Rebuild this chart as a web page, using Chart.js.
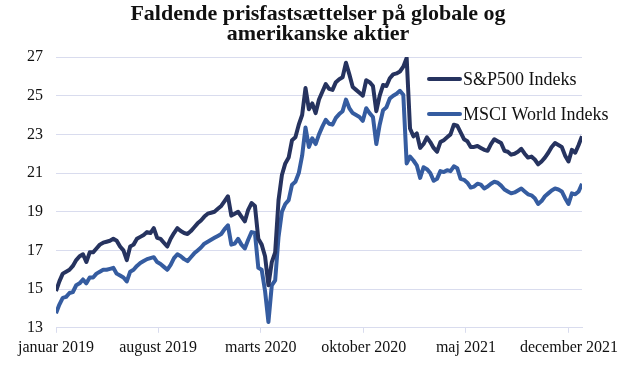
<!DOCTYPE html>
<html>
<head>
<meta charset="utf-8">
<script src="https://cdn.jsdelivr.net/npm/chart.js@4.4.1/dist/chart.umd.min.js"></script>
<style>
  body { margin: 0; background: #fff; }
  #wrap { width: 640px; height: 367px; }
</style>
</head>
<body>
<div id="wrap"><canvas id="peChart"></canvas></div>
<script>
// weekly forward P/E, first week of Jan 2019 to end of Dec 2021
var spxPE = [
  14.9, 15.4, 15.8, 15.9, 16.0, 16.2, 16.5, 16.7, 16.8, 16.4, 16.9, 16.9, 17.1, 17.3, 17.4, 17.45, 17.5, 17.6, 17.5, 17.2, 17.0, 16.5, 17.2, 17.3, 17.6, 17.7, 17.8,
  17.95, 17.9, 18.15, 17.65, 17.6, 17.4, 17.2, 17.6, 17.9, 18.15, 18.0, 17.9, 17.85, 18.0, 18.2, 18.4, 18.55, 18.75, 18.9, 18.95, 19.0, 19.15, 19.3, 19.55, 19.8,
  18.8, 18.9, 19.0, 18.75, 18.5, 19.1, 19.45, 19.3, 17.6, 17.3, 16.7, 15.2, 16.4, 16.9,
  19.6, 20.9, 21.5, 21.8, 22.7, 22.85, 23.5, 24.0, 25.4, 24.3, 24.6, 24.1, 24.8, 25.2, 25.6, 25.35, 25.3, 25.7, 25.85, 25.95, 26.7, 26.1, 25.45, 25.3, 25.15, 25.0, 25.8, 25.7, 25.5, 24.2, 25.0, 25.55, 25.5, 25.9, 26.1, 26.15, 26.25, 26.5, 26.95,
  23.3, 22.9, 23.05, 22.3, 22.5, 22.85, 22.6, 22.3, 22.1, 22.6, 22.7, 22.85, 23.0, 23.5, 23.45, 23.1, 22.75, 22.65, 22.35, 22.35, 22.4, 22.3, 22.2, 22.15, 22.5, 22.75, 22.65, 22.55, 22.15, 22.1, 21.95, 22.0, 22.1, 22.25, 22.0, 21.8, 21.85, 21.7, 21.45, 21.6, 21.8, 22.05, 22.35, 22.55, 22.45, 22.35, 21.9, 21.6, 22.2, 22.05, 22.45, 22.9
];
var msciPE = [
  13.75, 14.2, 14.55, 14.6, 14.8, 14.85, 15.2, 15.3, 15.5, 15.3, 15.6, 15.6, 15.8, 15.9, 16.0, 16.0, 16.05, 16.1, 15.8, 15.7, 15.6, 15.4, 15.9, 16.0, 16.2, 16.35, 16.45,
  16.55, 16.6, 16.65, 16.4, 16.3, 16.15, 16.0, 16.25, 16.6, 16.8, 16.7, 16.55, 16.45, 16.65, 16.85, 17.0, 17.15, 17.35, 17.45, 17.55, 17.65, 17.75, 17.85, 18.1, 18.3,
  17.3, 17.35, 17.6, 17.3, 17.1, 17.55, 17.95, 17.9, 16.1, 16.0, 14.9, 13.3, 15.2, 15.45,
  17.7, 19.0, 19.4, 19.6, 20.4, 20.55, 21.0, 21.9, 23.35, 22.35, 22.8, 22.5, 23.0, 23.4, 23.75, 23.55, 23.5, 23.85, 24.05, 24.2, 24.8, 24.35, 24.1, 24.0, 23.9, 23.7, 24.35, 24.1, 23.9, 22.5, 23.5, 24.25, 24.4, 24.85, 25.0, 25.1, 25.25, 25.05, 21.5,
  21.85, 21.65, 21.4, 20.75, 21.3, 21.2, 21.0, 20.6, 20.7, 21.1, 21.05, 21.15, 21.1, 21.35, 21.25, 20.7, 20.65, 20.5, 20.25, 20.3, 20.45, 20.4, 20.2, 20.3, 20.45, 20.55, 20.5, 20.35, 20.15, 20.05, 19.95, 20.0, 20.1, 20.2, 20.05, 19.9, 19.85, 19.7, 19.4, 19.55, 19.8, 19.95, 20.1, 20.2, 20.15, 20.05, 19.7, 19.4, 19.95, 19.9, 20.05, 20.45
];

// x axis is days since 1 Jan 2019
var tickDays = [0, 212, 425, 639, 851, 1065];
var tickLabels = ['januar 2019', 'august 2019', 'marts 2020', 'oktober 2020', 'maj 2021', 'december 2021'];
var yTicks = [13, 15, 17, 19, 21, 23, 25, 27];
var titleLines = ['Faldende prisfastsættelser på globale og', 'amerikanske aktier'];

var serif = "'Liberation Serif', 'Times New Roman', serif";
var gridColor = '#d9dcee';

function toPoints(values) {
  return values.map(function (v, i) { return { x: i * 7, y: v }; });
}

// title is a bit right of the canvas centre, so draw it by hand
var centredTitle = {
  id: 'centredTitle',
  afterDraw: function (chart) {
    var ctx = chart.ctx;
    ctx.save();
    ctx.fillStyle = '#111';
    ctx.font = 'bold 22px ' + serif;
    ctx.textAlign = 'center';
    ctx.textBaseline = 'middle';
    titleLines.forEach(function (line, i) {
      ctx.fillText(line, 318, 14 + i * 20);
    });
    ctx.restore();
  }
};

// legend sits inside the plot, top right
var inlineLegend = {
  id: 'inlineLegend',
  afterDraw: function (chart) {
    var ctx = chart.ctx;
    var area = chart.chartArea;
    chart.data.datasets.forEach(function (ds, i) {
      var x = area.right - 153;
      var y = area.top + 22 + i * 35;
      ctx.save();
      ctx.strokeStyle = ds.borderColor;
      ctx.lineWidth = 4;
      ctx.lineCap = 'round';
      ctx.beginPath();
      ctx.moveTo(x, y);
      ctx.lineTo(x + 31, y);
      ctx.stroke();
      ctx.fillStyle = '#111';
      ctx.font = '18px ' + serif;
      ctx.textBaseline = 'middle';
      ctx.fillText(ds.label, x + 34, y + 1);
      ctx.restore();
    });
  }
};

var ctx = document.getElementById('peChart').getContext('2d');
var peChart = new Chart(ctx, {
  type: 'line',
  data: {
    datasets: [{
      label: 'S&P500 Indeks',
      data: toPoints(spxPE),
      borderColor: '#26335f',
      borderWidth: 4,
      pointRadius: 0,
      tension: 0,
      borderJoinStyle: 'round'
    }, {
      label: 'MSCI World Indeks',
      data: toPoints(msciPE),
      borderColor: '#355ca0',
      borderWidth: 4,
      pointRadius: 0,
      tension: 0,
      borderJoinStyle: 'round'
    }]
  },
  options: {
    responsive: true,
    maintainAspectRatio: false,
    animation: false,
    layout: { padding: { left: 14, right: 58, top: 57, bottom: 5 } },
    plugins: {
      legend: { display: false },
      tooltip: { enabled: false },
      title: { display: false }
    },
    scales: {
      x: {
        type: 'linear',
        min: 0,
        max: 1092,
        afterBuildTicks: function (scale) {
          scale.ticks = tickDays.map(function (d) { return { value: d }; });
        },
        ticks: {
          autoSkip: false,
          maxRotation: 0,
          padding: 5,
          color: '#111',
          font: { family: serif, size: 16 },
          callback: function (value) {
            var i = tickDays.indexOf(value);
            return i >= 0 ? tickLabels[i] : '';
          }
        },
        grid: { drawOnChartArea: false, drawTicks: true, tickLength: 5, color: gridColor },
        border: { display: true, color: gridColor }
      },
      y: {
        min: 13,
        max: 27,
        afterBuildTicks: function (scale) {
          scale.ticks = yTicks.map(function (v) { return { value: v }; });
        },
        ticks: {
          padding: 13,
          color: '#111',
          font: { family: serif, size: 16 }
        },
        grid: { color: gridColor, drawTicks: false },
        border: { display: false }
      }
    }
  },
  plugins: [centredTitle, inlineLegend]
});
</script>
</body>
</html>
